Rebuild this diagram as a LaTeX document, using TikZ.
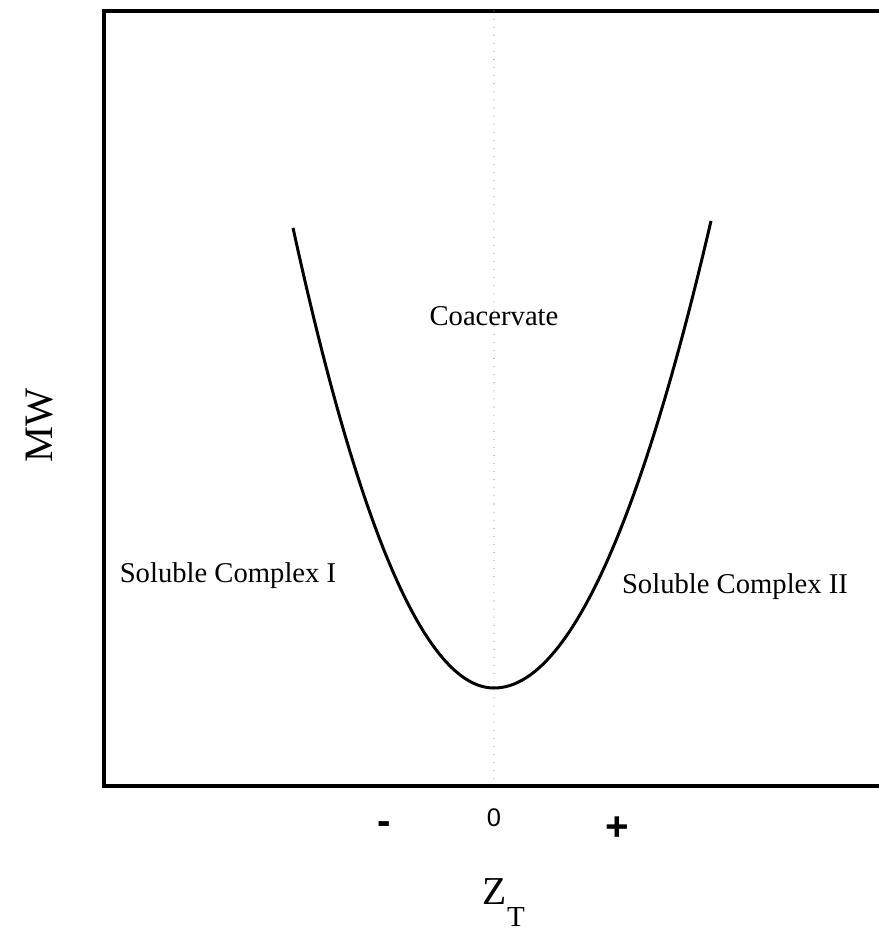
\documentclass[tikz,border=0pt]{standalone}
\usepackage{fontspec}
\setmainfont{Liberation Serif}
\newfontfamily\axisfont{Liberation Sans}
\tikzset{
  region/.style={font=\fontsize{16.3}{18}\selectfont, inner sep=0pt},
  ticklabel/.style={font=\axisfont\fontsize{14.5}{16}\selectfont, inner sep=0pt},
  signlabel/.style={font=\axisfont\bfseries\fontsize{23}{25}\selectfont, inner sep=0pt},
}
\begin{document}
\begin{tikzpicture}[x=0.02cm,y=0.02cm]
 \useasboundingbox (0,0) rectangle (879,930);
 % frame (right side runs off the page)
 \draw[line width=1.8pt] (879,919) -- (104,919) -- (104,144) -- (879,144);
 \coordinate (top) at (494,919);
 \coordinate (bot) at (494,144);
 \draw[gray, line width=0.6pt, line cap=round, dash pattern=on 0pt off 4.6pt] (top) -- (bot);
 % phase boundary
 \draw[line width=1.7pt, domain=-20.1:0, samples=80, smooth] plot ({494+10*\x},{242+1.139*\x*\x});
 \draw[line width=1.7pt, domain=0:21.7, samples=80, smooth] plot ({494+10*\x},{242+0.992*\x*\x});
 % regions
 \node[region] (coac) at (494,614) {Coacervate};
 \node[region] (sc1) at (228,354) {Soluble Complex I};
 \node[region] (sc2) at (735,343) {Soluble Complex II};
 % axes
 \node[ticklabel, anchor=base] (zero) at (494,103) {0};
 \node[signlabel, anchor=base] (minus) at (384,95) {-};
 \node[signlabel] (plus) at (617,101) {+};
 \node[font=\fontsize{22.5}{24}\selectfont, inner sep=0pt, anchor=base] (z) at (495,26) {Z};
 \node[font=\fontsize{16.5}{18}\selectfont, inner sep=0pt, anchor=base] (t) at (516,4) {T};
 \node[font=\fontsize{23}{25}\selectfont, rotate=90, inner sep=0pt] (mw) at (40,505) {MW};
\end{tikzpicture}
\end{document}
